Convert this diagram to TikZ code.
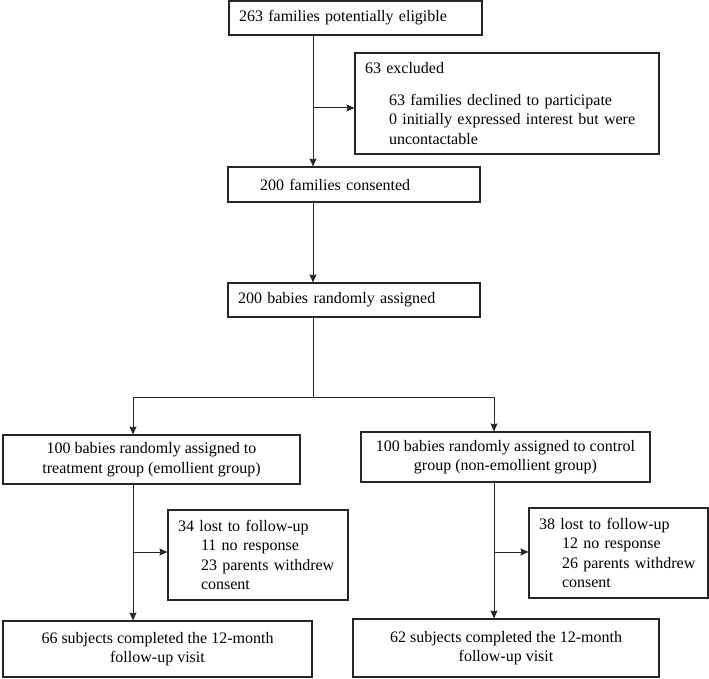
\documentclass[tikz,border=0pt]{standalone}
\usepackage{fontspec}
\setmainfont{Liberation Serif}
\usetikzlibrary{arrows.meta}
\tikzset{>={Stealth[length=8pt,width=7pt,inset=1pt]}}
\tikzset{
  flowbox/.style={draw=black!85, line width=1.1pt, align=center, inner sep=0pt},
  notebox/.style={draw=black!85, line width=1.1pt, align=left, inner ysep=0pt, inner xsep=10pt},
  link/.style={draw=black!85, line width=1pt}
}

\begin{document}
\begin{tikzpicture}[x=1pt, y=-1pt, font=\fontsize{16}{19.5}\selectfont]
    \useasboundingbox (0,0) rectangle (709,679);
    % enrolment
    \node[notebox, text width=233pt, minimum height=34pt] (elig) at (355.5,18) {263 families potentially eligible};
    \node[notebox, text width=284pt, minimum height=101pt] (excl) at (507,103.5)
        {63 excluded\\[12pt]
         \hspace*{24pt}63 families declined to participate\\
         \hspace*{24pt}0 initially expressed interest but were\\
         \hspace*{24pt}uncontactable};
    \node[notebox, text width=232pt, minimum height=35pt] (cons) at (354,184.5) {\hspace*{22pt}200 families consented};
    \node[notebox, text width=232pt, minimum height=34pt] (rand) at (354,300) {200 babies randomly assigned};
    % allocation
    \node[flowbox, minimum width=297pt, minimum height=49pt] (treat) at (151.5,459.5)
        {100 babies randomly assigned to\\treatment group (emollient group)};
    \node[flowbox, minimum width=289pt, minimum height=50pt] (ctrl) at (505.5,457)
        {100 babies randomly assigned to control\\group (non-emollient group)};
    % follow-up
    \node[notebox, text width=160pt, minimum height=90pt] (lostT) at (258,555)
        {34 lost to follow-up\\
         \hspace*{23pt}11 no response\\
         \hspace*{23pt}23 parents withdrew\\
         \hspace*{23pt}consent};
    \node[notebox, text width=159pt, minimum height=90pt] (lostC) at (618.5,553)
        {38 lost to follow-up\\
         \hspace*{23pt}12 no response\\
         \hspace*{23pt}26 parents withdrew\\
         \hspace*{23pt}consent};
    \node[flowbox, minimum width=309pt, minimum height=56pt] (doneT) at (157.5,649)
        {66 subjects completed the 12-month\\follow-up visit};
    \node[flowbox, minimum width=306pt, minimum height=58pt] (doneC) at (506,648)
        {62 subjects completed the 12-month\\follow-up visit};
    % connectors
    \coordinate (trunk) at (313,0);
    \coordinate (j1) at (313,108);
    \coordinate (split) at (313,397);
    \coordinate (lft) at (133,397);
    \coordinate (rgt) at (494,397);
    \coordinate (j2) at (133,552);
    \coordinate (j3) at (494,552);
    \draw[link,->] (elig.south -| trunk) -- (cons.north -| trunk);
    \draw[link,->] (j1) -- (j1 -| excl.west);
    \draw[link,->] (cons.south -| trunk) -- (rand.north -| trunk);
    \draw[link] (rand.south -| trunk) -- (split);
    \draw[link] (lft) -- (rgt);
    \draw[link,->] (lft) -- (treat.north -| lft);
    \draw[link,->] (rgt) -- (ctrl.north -| rgt);
    \draw[link,->] (treat.south -| lft) -- (doneT.north -| lft);
    \draw[link,->] (j2) -- (j2 -| lostT.west);
    \draw[link,->] (ctrl.south -| rgt) -- (doneC.north -| rgt);
    \draw[link,->] (j3) -- (j3 -| lostC.west);
\end{tikzpicture}
\end{document}
